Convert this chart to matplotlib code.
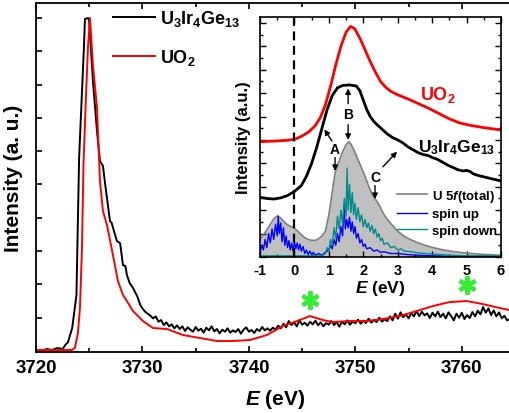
import numpy as np
import matplotlib
matplotlib.use("Agg")
import matplotlib.pyplot as plt
from matplotlib.ticker import MultipleLocator, NullFormatter

plt.rcParams['font.family'] = ['Liberation Sans', 'DejaVu Sans']
plt.rcParams['font.weight'] = 'bold'
plt.rcParams['mathtext.fontset'] = 'custom'
plt.rcParams['mathtext.it'] = 'Liberation Sans:italic:bold'
plt.rcParams['mathtext.rm'] = 'Liberation Sans:bold'
plt.rcParams['mathtext.bf'] = 'Liberation Sans:bold'
plt.rcParams['mathtext.default'] = 'regular'
plt.rcParams['axes.unicode_minus'] = False

# ---------------- main spectrum data ----------------
uo2_E = [3720.0, 3722.25, 3723.38, 3723.66, 3723.94, 3724.13, 3724.32, 3724.46, 3724.69, 3724.88,
         3725.07, 3725.35, 3725.73, 3726.01, 3726.29, 3726.67, 3727.23, 3727.70, 3728.17, 3728.54,
         3729.11, 3730.05, 3730.99, 3732.30, 3733.80, 3735.40, 3737.0, 3738.5, 3740.09,
         3741.69, 3743.19, 3744.79, 3745.73, 3746.95, 3747.89, 3749.48, 3751.08, 3752.58,
         3754.18, 3755.77, 3757.28, 3758.87, 3760.47, 3761.97, 3763.57, 3764.6]
uo2_I = [0.003, 0.003, 0.003, 0.01, 0.054, 0.13, 0.31, 0.56, 0.76, 0.91,
         1.0, 0.859, 0.73, 0.51, 0.42, 0.378, 0.288, 0.21, 0.168, 0.15,
         0.12, 0.09, 0.069, 0.066, 0.048, 0.039, 0.03, 0.03, 0.033,
         0.048, 0.075, 0.093, 0.105, 0.093, 0.087, 0.09, 0.09, 0.096,
         0.105, 0.12, 0.135, 0.147, 0.15, 0.141, 0.129, 0.122]

u3_E_edge = [3720.0, 3720.5, 3721.0, 3721.5, 3722.0, 3722.5, 3722.8, 3723.0, 3723.4, 3723.8,
             3724.05, 3724.3, 3724.5, 3724.6, 3724.9, 3725.0, 3725.35, 3725.73, 3726.01,
             3726.29, 3726.48, 3726.95, 3727.1, 3727.6, 3727.9, 3728.17, 3728.4, 3728.54,
             3728.8, 3729.1, 3729.5, 3729.8, 3730.0]
u3_I_edge = [0.003, 0.0, 0.006, 0.003, 0.009, 0.006, 0.02, 0.026, 0.069, 0.168,
             0.58, 0.76, 0.91, 0.997, 1.0, 0.99, 0.81, 0.66, 0.57,
             0.556, 0.505, 0.39, 0.385, 0.33, 0.324, 0.258, 0.255, 0.228,
             0.204, 0.19, 0.165, 0.138, 0.128]
u3_E_tail = list(np.arange(3730.25, 3764.51, 0.25))
u3_I_tail = [0.118, 0.112, 0.106, 0.098, 0.104, 0.088, 0.093, 0.078, 0.086, 0.074, 0.080, 0.068,
             0.077, 0.066, 0.074, 0.060, 0.071, 0.064, 0.058, 0.072, 0.061, 0.067, 0.055, 0.070,
             0.062, 0.074, 0.059, 0.066, 0.053, 0.064, 0.058, 0.068, 0.055, 0.062, 0.057, 0.066,
             0.052, 0.064, 0.071, 0.058, 0.063, 0.054, 0.066, 0.060, 0.072, 0.062, 0.068, 0.061,
             0.070, 0.064, 0.076, 0.068, 0.082, 0.071, 0.090, 0.078, 0.086, 0.074, 0.092, 0.079,
             0.085, 0.076, 0.088, 0.080, 0.091, 0.077, 0.086, 0.074, 0.084, 0.079, 0.090, 0.078,
             0.087, 0.073, 0.088, 0.080, 0.092, 0.079, 0.089, 0.083, 0.094, 0.082, 0.091, 0.084,
             0.097, 0.085, 0.093, 0.087, 0.100, 0.088, 0.095, 0.090, 0.104, 0.092, 0.112, 0.097,
             0.116, 0.101, 0.110, 0.098, 0.114, 0.104, 0.120, 0.105, 0.118, 0.107, 0.113, 0.099,
             0.115, 0.104, 0.118, 0.102, 0.112, 0.098, 0.116, 0.105, 0.092, 0.112, 0.100, 0.115,
             0.096, 0.108, 0.099, 0.117, 0.104, 0.121, 0.110, 0.132, 0.115, 0.128, 0.108, 0.122,
             0.104, 0.116, 0.098, 0.106, 0.092, 0.096]
u3_E = u3_E_edge + u3_E_tail[:len(u3_I_tail)]
u3_I = u3_I_edge + u3_I_tail[:len(u3_E_tail)]

star_E = [3745.7, 3760.5]
star_I = [0.153, 0.198]

# ---------------- inset data ----------------
in_uo2_E = [-1.0, -0.6, -0.2, 0.0, 0.2, 0.4, 0.6, 0.75, 0.9, 1.05, 1.2, 1.35, 1.5, 1.63, 1.75,
            1.9, 2.05, 2.2, 2.35, 2.5, 2.65, 2.8, 3.0, 3.3, 3.6, 3.9, 4.2, 4.5, 4.8, 5.1, 5.5, 6.0]
in_uo2_I = [9.85, 9.9, 9.97, 10.05, 10.3, 10.65, 11.2, 11.9, 13.0, 14.6, 16.4, 18.0, 19.2, 19.7, 19.5,
            18.7, 17.7, 16.7, 15.8, 15.0, 14.5, 14.15, 13.85, 13.5, 13.1, 12.7, 12.25, 11.8, 11.45,
            11.25, 11.05, 10.85]

in_u3_E = [-1.0, -0.8, -0.6, -0.4, -0.2, 0.0, 0.2, 0.35, 0.5, 0.65, 0.8, 0.95, 1.1, 1.25, 1.4, 1.6,
           1.8, 1.9, 2.0, 2.1, 2.2, 2.3, 2.4, 2.55, 2.7, 2.85, 3.0, 3.15, 3.3, 3.45, 3.6, 3.75, 3.9,
           4.0, 4.15, 4.3, 4.45, 4.6, 4.75, 4.9, 5.0, 5.1, 5.2, 5.35, 5.5, 5.7, 5.85, 6.0]
in_u3_I = [5.1, 5.0, 4.95, 5.05, 5.25, 5.6, 6.1, 6.9, 8.0, 9.4, 11.0, 12.6, 13.8, 14.45, 14.65, 14.7,
           14.6, 14.2, 13.4, 12.6, 12.0, 11.6, 11.3, 10.9, 10.5, 10.2, 10.0, 9.75, 9.4, 9.15, 8.9,
           8.75, 8.65, 8.5, 8.35, 8.1, 7.85, 7.65, 7.45, 7.35, 7.4, 7.3, 7.1, 6.95, 6.85, 6.7, 6.6, 6.5]

tot_E = [-1.0, -0.85, -0.7, -0.6, -0.5, -0.4, -0.3, -0.2, -0.1, 0.0, 0.1, 0.2, 0.3, 0.4, 0.5, 0.6,
         0.7, 0.8, 0.9, 1.0, 1.1, 1.18, 1.3, 1.4, 1.5, 1.58, 1.65, 1.75, 1.85, 1.95, 2.05, 2.15,
         2.25, 2.35, 2.45, 2.55, 2.65, 2.8, 3.0, 3.2, 3.4, 3.6, 3.8, 4.0, 4.3, 4.6, 5.0, 5.5, 6.0]
tot_I = [1.5, 2.1, 2.8, 3.25, 3.5, 3.35, 3.0, 2.75, 2.6, 2.45, 2.2, 1.9, 1.65, 1.5, 1.42, 1.42,
         1.55, 1.8, 2.2, 3.6, 5.6, 7.2, 8.2, 9.0, 9.6, 9.85, 9.6, 9.0, 8.3, 7.6, 6.9, 6.1,
         5.4, 4.95, 4.5, 3.9, 3.4, 2.85, 2.2, 1.75, 1.45, 1.2, 1.0, 0.82, 0.62, 0.47, 0.33, 0.22, 0.15]

up_E = [-1.0, -0.95, -0.9, -0.85, -0.8, -0.75, -0.7, -0.65, -0.6, -0.55, -0.5, -0.47, -0.44, -0.4,
        -0.36, -0.32, -0.28, -0.24, -0.2, -0.16, -0.12, -0.08, -0.04, 0.0, 0.04, 0.08, 0.12, 0.16,
        0.2, 0.25, 0.3, 0.35, 0.4, 0.45, 0.5, 0.55, 0.6, 0.7, 0.8, 0.9, 1.0, 1.05, 1.1, 1.15, 1.2,
        1.25, 1.3, 1.35, 1.4, 1.44, 1.48, 1.52, 1.56, 1.6, 1.64, 1.68, 1.72, 1.76, 1.8, 1.85, 1.9,
        1.95, 2.0, 2.05, 2.1, 2.2, 2.3, 2.4, 2.5, 2.6, 2.8, 3.0, 3.3, 3.6, 4.0, 5.0, 6.0]
up_I = [0.3, 1.0, 0.6, 1.5, 0.8, 2.0, 1.2, 2.4, 1.5, 2.8, 1.8, 3.5, 2.0, 2.9,
        1.3, 2.5, 1.0, 1.8, 0.8, 1.4, 0.6, 1.2, 0.5, 1.3, 0.7, 1.2, 0.6, 1.1,
        0.5, 0.9, 0.3, 0.6, 0.2, 0.5, 0.2, 0.4, 0.15, 0.3, 0.15, 0.4, 0.6, 1.0, 0.7, 1.5, 1.0,
        2.0, 1.3, 2.6, 1.8, 4.5, 2.4, 3.2, 2.5, 3.4, 2.2, 3.0, 2.0, 2.6, 1.6, 2.0, 1.2,
        1.5, 0.9, 1.1, 0.7, 0.8, 0.5, 0.6, 0.4, 0.45, 0.3, 0.3, 0.2, 0.15, 0.1, 0.05, 0.05]

dn_E = [-1.0, 0.0, 0.8, 0.9, 0.95, 1.0, 1.05, 1.1, 1.15, 1.2, 1.25, 1.3, 1.35, 1.4, 1.45, 1.5,
        1.53, 1.56, 1.6, 1.64, 1.68, 1.72, 1.76, 1.8, 1.85, 1.9, 1.95, 2.0, 2.05, 2.1, 2.15, 2.2,
        2.25, 2.3, 2.35, 2.4, 2.45, 2.5, 2.55, 2.6, 2.7, 2.8, 2.9, 3.0, 3.1, 3.2, 3.4, 3.6, 3.8,
        4.0, 4.5, 5.0, 6.0]
dn_I = [0.1, 0.1, 0.1, 0.3, 0.8, 0.5, 1.5, 1.0, 2.5, 1.6, 3.5, 2.4, 4.0, 2.8, 5.0, 3.5,
        7.6, 4.0, 6.2, 3.8, 5.5, 3.6, 4.6, 3.2, 4.2, 3.0, 3.6, 2.6, 3.2, 2.5, 2.9, 2.2,
        2.7, 2.0, 2.4, 1.7, 2.0, 1.4, 1.6, 1.1, 1.2, 0.8, 0.9, 0.6, 0.7, 0.5, 0.45, 0.35, 0.3,
        0.25, 0.15, 0.1, 0.1]

# ---------------- figure ----------------
W, H = 509, 414
fig = plt.figure(figsize=(W / 100, H / 100), dpi=100)

ax = fig.add_axes([36 / W, (H - 353) / H, (515 - 36) / W, (353 - 4) / H])
ax.plot(u3_E, u3_I, color='black', lw=1.4, label='U$_3$Ir$_4$Ge$_{13}$')
ax.plot(uo2_E, uo2_I, color='#ff0000', lw=1.4, label='UO$_2$')
ax.plot(star_E, star_I, ls='none', marker=(6, 2, 0), ms=13, mew=3, color='#33ee33')
ax.set_xlim(3720, 3765)
ax.set_ylim(-0.003, 1.045)
ax.xaxis.set_major_locator(MultipleLocator(10))
ax.xaxis.set_minor_locator(MultipleLocator(5))
ax.yaxis.set_major_locator(MultipleLocator(0.1))
ax.yaxis.set_major_formatter(NullFormatter())
ax.tick_params(which='both', direction='in', top=True, right=True, width=1.2)
ax.tick_params(which='major', length=4)
ax.tick_params(which='minor', length=3)
ax.tick_params(axis='x', labelsize=13.5, pad=5)
for lab in ax.get_xticklabels():
    lab.set_fontweight('bold')
for s in ax.spines.values():
    s.set_linewidth(1.3)
ax.set_xlabel('$\\mathit{E}$ (eV)', fontsize=15, fontweight='bold', labelpad=8)
ax.set_ylabel('Intensity (a. u.)', fontsize=15, fontweight='bold', labelpad=6)
leg = ax.legend(loc='upper left', bbox_to_anchor=(0.160, 0.985), frameon=False,
                handlelength=2.35, handletextpad=0.27, labelspacing=1.05,
                borderpad=0, borderaxespad=0, prop={'weight': 'bold', 'size': 13})

# ---------------- inset ----------------
ai = fig.add_axes([260 / W, (H - 258) / H, 241 / W, 240 / H])
ai.fill_between(tot_E, 0, tot_I, color='#c0c0c0', lw=0)
ai.plot(tot_E, tot_I, color='#808080', lw=1.2, label='U 5$\\mathit{f}$(total)')
ai.plot(up_E, up_I, color='#0000ff', lw=1.0, label='spin up')
ai.plot(dn_E, dn_I, color='#008b8b', lw=1.0, label='spin down')
ai.plot(in_u3_E, in_u3_I, color='black', lw=2.0)
ai.plot(in_uo2_E, in_uo2_I, color='#ff0000', lw=2.0)
ai.axvline(0, color='black', ls=(0, (4, 2.5)), lw=1.6)
ai.set_xlim(-1, 6)
ai.set_ylim(0, 20.5)
ai.xaxis.set_major_locator(MultipleLocator(1))
ai.xaxis.set_minor_locator(MultipleLocator(0.5))
ai.yaxis.set_major_locator(MultipleLocator(2))
ai.yaxis.set_minor_locator(MultipleLocator(1))
ai.yaxis.set_major_formatter(NullFormatter())
ai.tick_params(which='both', direction='in', top=True, right=True, width=1.0)
ai.tick_params(which='major', length=4)
ai.tick_params(which='minor', length=2.5)
ai.tick_params(axis='x', labelsize=10.5, pad=4)
for lab in ai.get_xticklabels():
    lab.set_fontweight('bold')
for s in ai.spines.values():
    s.set_linewidth(1.2)
ai.set_xlabel('$\\mathit{E}$ (eV)', fontsize=12.5, fontweight='bold', labelpad=1)
ai.set_ylabel('Intensity (a.u.)', fontsize=12, fontweight='bold', labelpad=3)
ai.legend(loc='lower right', bbox_to_anchor=(0.985, 0.085), frameon=False,
          handlelength=2.3, handletextpad=0.4, labelspacing=0.32, borderpad=0, borderaxespad=0,
          prop={'weight': 'bold', 'size': 9.5})

ai.text(3.65, 13.5, 'UO$_2$', color='#ff0000', fontsize=13, fontweight='bold',
        ha='left', va='baseline')
ai.text(3.59, 9.06, 'U$_3$Ir$_4$Ge$_{13}$', color='black', fontsize=12.5, fontweight='bold',
        ha='left', va='baseline')

arr = dict(arrowstyle='-|>', color='black', lw=1.0, mutation_scale=8, shrinkA=0, shrinkB=0)
ai.text(1.18, 9.2, 'A', fontsize=10, fontweight='bold', ha='center', va='center')
ai.annotate('', xy=(0.87, 10.9), xytext=(1.09, 9.9), arrowprops=arr)
ai.annotate('', xy=(1.18, 7.35), xytext=(1.18, 8.5), arrowprops=arr)
ai.text(1.56, 12.2, 'B', fontsize=10, fontweight='bold', ha='center', va='center')
ai.annotate('', xy=(1.56, 14.4), xytext=(1.56, 13.1), arrowprops=arr)
ai.annotate('', xy=(1.56, 10.0), xytext=(1.56, 11.3), arrowprops=arr)
ai.text(2.34, 6.85, 'C', fontsize=10, fontweight='bold', ha='center', va='center')
ai.annotate('', xy=(2.34, 4.95), xytext=(2.34, 6.1), arrowprops=arr)
ai.annotate('', xy=(2.98, 9.0), xytext=(2.57, 7.7), arrowprops=arr)

fig.savefig('out.png', dpi=100)
